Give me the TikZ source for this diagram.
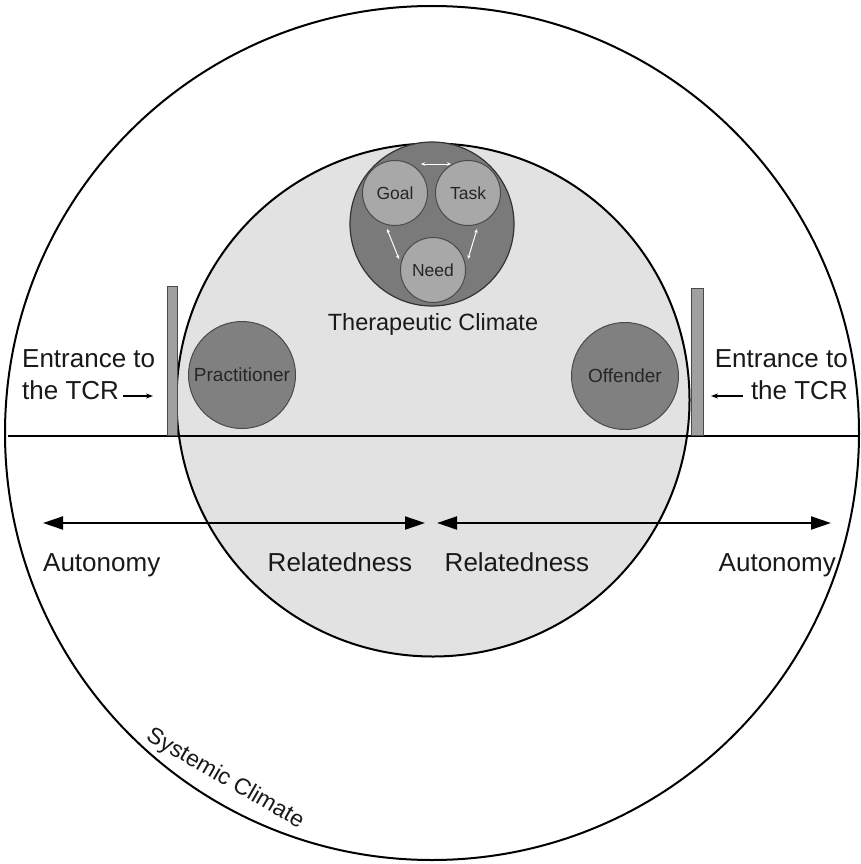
\documentclass[tikz,border=0pt]{standalone}
\usepackage{fontspec}
\setmainfont{Liberation Sans}
\usetikzlibrary{arrows.meta}
\definecolor{roomgrey}{HTML}{E2E2E2}
\definecolor{coregrey}{HTML}{7A7A7A}
\definecolor{partgrey}{HTML}{808080}
\definecolor{allygrey}{HTML}{A8A8A8}
\definecolor{bargrey}{HTML}{A0A0A0}
\definecolor{edgegrey}{HTML}{4A4A4A}
\begin{document}
\begin{tikzpicture}[x=1pt,y=-1pt,
  ring/.style={circle,draw=black,line width=2pt,inner sep=0pt},
  party/.style={circle,draw=edgegrey,line width=1pt,fill=partgrey,inner sep=0pt,
    minimum size=107pt,text=black!85,font=\fontsize{19}{21}\selectfont},
  ally/.style={circle,draw=edgegrey,line width=1pt,fill=allygrey,inner sep=0pt,
    minimum size=65pt,text=black!85,font=\fontsize{17.5}{19}\selectfont},
  gate/.style={rectangle,draw=edgegrey,line width=1pt,fill=bargrey,inner sep=0pt,anchor=south},
  label/.style={inner sep=0pt,text=black!90,font=\fontsize{26}{30}\selectfont},
  span/.style={line width=2pt,{Triangle[length=20pt,width=13pt]}-{Triangle[length=20pt,width=13pt]}},
  entry/.style={line width=1.2pt,-{Stealth[length=7pt,width=5pt]}},
  link/.style={draw=white,line width=1pt,{Stealth[length=4pt,width=3.5pt]}-{Stealth[length=4pt,width=3.5pt]}}]
\useasboundingbox (0,0) rectangle (860,864);

% systemic and therapeutic climates
\node[ring,minimum size=854pt,fill=white] (outer) at (432,433) {};
\node[ring,minimum size=513pt,fill=roomgrey] (room) at (433,400) {};

% threshold line
\coordinate (hl) at (8,436);
\coordinate (hr) at (860,436);
\draw[line width=2pt] (hl) -- (hr);

% goal / task / need cluster
\node[circle,draw=black!80,line width=1.2pt,fill=coregrey,minimum size=164pt,inner sep=0pt] (core) at (432,224) {};
\node[ally] (goal) at (395,193) {Goal};
\node[ally] (task) at (468,193) {Task};
\node[ally] (need) at (433,270) {Need};
\coordinate (gt1) at (421,164);
\coordinate (gt2) at (451,164);
\coordinate (gn1) at (387,229);
\coordinate (gn2) at (399,259);
\coordinate (tn1) at (477,229);
\coordinate (tn2) at (468,259);
\draw[link] (gt1) -- (gt2);
\draw[link] (gn1) -- (gn2);
\draw[link] (tn1) -- (tn2);
\node[inner sep=0pt,text=black!90,font=\fontsize{23.5}{26}\selectfont] (tclim) at (433,324) {Therapeutic Climate};

% the two parties
\node[party] (prac) at (242,375) {Practitioner};
\node[party] (offd) at (625,376) {Offender};

% entrance gates
\node[gate,minimum width=10pt,minimum height=149pt] (gateL) at (172,436) {};
\node[gate,minimum width=12pt,minimum height=147pt] (gateR) at (697,436) {};

% entrance labels
\node[label,anchor=base west] (entL1) at (22,367) {Entrance to};
\node[label,anchor=base west] (entL2) at (22,399) {the TCR};
\node[label,anchor=base east] (entR1) at (848,367) {Entrance to};
\node[label,anchor=base east] (entR2) at (848,399) {the TCR};
\coordinate (eL1) at (123,396);
\coordinate (eL2) at (153,396);
\coordinate (eR1) at (743,396);
\coordinate (eR2) at (711,396);
\draw[entry] (eL1) -- (eL2);
\draw[entry] (eR1) -- (eR2);

% autonomy / relatedness spans
\coordinate (s1) at (43,523);
\coordinate (s2) at (425,523);
\coordinate (s3) at (437,523);
\coordinate (s4) at (831,523);
\draw[span] (s1) -- (s2);
\draw[span] (s3) -- (s4);
\node[label,anchor=base west] (autL) at (43,571) {Autonomy};
\node[label,anchor=base] (relL) at (340,571) {Relatedness};
\node[label,anchor=base] (relR) at (517,571) {Relatedness};
\node[label,anchor=base east] (autR) at (836,571) {Autonomy};

% systemic climate label
\node[inner sep=0pt,text=black!90,font=\fontsize{23}{25}\selectfont,rotate=-30] (sclim) at (225,779) {Systemic Climate};
\end{tikzpicture}
\end{document}
